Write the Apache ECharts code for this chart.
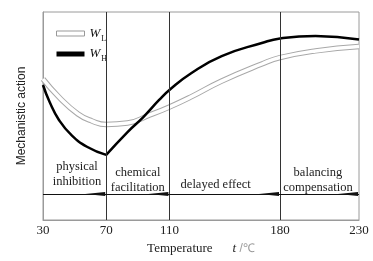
<!DOCTYPE html>
<html>
<head>
<meta charset="utf-8">
<script src="https://cdn.jsdelivr.net/npm/echarts@6/dist/echarts.min.js"></script>
<style>
  html, body { margin: 0; padding: 0; background: #fff; }
  #chart { width: 373px; height: 261px; }
</style>
</head>
<body>
<div id="chart"></div>
<script>
// temperature ticks and stage boundaries (°C)
const tempTicks = [30, 70, 110, 180, 230]
const stageBounds = [70, 110, 180]
const stageNames = ['physical\ninhibition', 'chemical\nfacilitation', 'delayed effect', 'balancing\ncompensation']

// W_L curve (arbitrary units 0-100)
const wlTemp = [30, 40.1, 52.1, 61, 70, 83.5, 97.6, 110, 124, 143.1, 168.5, 180, 202.5, 230]
const wlValue = [67.8, 59.1, 51.0, 47.6, 45.9, 46.6, 50.5, 54.3, 59.3, 66.8, 75.0, 78.1, 81.3, 83.4]

// W_H curve, falling part then rising part (kink at 70 °C)
const whFallTemp = [30, 34.2, 40.1, 47.9, 58.1, 70]
const whFallValue = [64.9, 56.7, 48.1, 40.9, 35.1, 31.3]
const whRiseTemp = [70, 83.5, 93.5, 103.5, 110, 124, 143.1, 168.5, 180, 202.5, 230]
const whRiseValue = [31.3, 42.3, 49.5, 57.7, 62.5, 70.7, 78.8, 85.1, 87.3, 88.5, 86.8]

const zip = (xs, ys) => xs.map((x, i) => [x, ys[i]])

const serif = 'Liberation Serif'
const sans = 'Liberation Sans'
const arrowY = 12.5

const chart = echarts.init(document.getElementById('chart'))
chart.setOption({
  animation: false,
  grid: {
    left: 43,
    right: 14,
    top: 12,
    bottom: 41,
    show: true,
    borderColor: '#9a9a9a',
    borderWidth: 1
  },
  legend: {
    orient: 'vertical',
    left: 51,
    top: 22,
    itemWidth: 28,
    itemHeight: 5,
    itemGap: 5,
    data: [
      { name: 'WL', icon: 'rect', itemStyle: { color: '#fff', borderColor: '#999', borderWidth: 1 } },
      { name: 'WH', icon: 'rect', itemStyle: { color: '#000', borderWidth: 0 } }
    ],
    formatter: name => name === 'WL' ? '{w|W}{s|L}' : '{w|W}{s|H}',
    textStyle: {
      rich: {
        w: { fontFamily: serif, fontStyle: 'italic', fontSize: 13, color: '#111' },
        s: { fontFamily: serif, fontSize: 8, color: '#111', padding: [10, 0, 0, 1] }
      }
    }
  },
  xAxis: {
    type: 'value',
    min: 30,
    max: 230,
    splitLine: { show: false },
    axisTick: { show: false },
    axisLine: { lineStyle: { color: '#9a9a9a' } },
    axisLabel: {
      customValues: tempTicks,
      margin: 4,
      fontFamily: serif,
      fontSize: 13,
      color: '#222'
    },
    name: '{a|Temperature}      {i|t} /℃',
    nameLocation: 'middle',
    nameGap: 22,
    nameTextStyle: {
      rich: {
        a: { fontFamily: serif, fontSize: 13, color: '#222' },
        i: { fontFamily: serif, fontStyle: 'italic', fontSize: 13, color: '#222' }
      }
    }
  },
  yAxis: {
    type: 'value',
    min: 0,
    max: 100,
    splitLine: { show: false },
    axisTick: { show: false },
    axisLabel: { show: false },
    axisLine: { lineStyle: { color: '#9a9a9a' } },
    name: 'Mechanistic action',
    nameLocation: 'middle',
    nameGap: 15,
    nameTextStyle: { fontFamily: sans, fontSize: 12, color: '#222' }
  },
  series: [
    {
      name: 'stages',
      type: 'line',
      data: [],
      silent: true,
      markLine: {
        silent: true,
        symbol: ['none', 'none'],
        label: { show: false },
        lineStyle: { color: '#333', width: 1, type: 'solid' },
        data: stageBounds.map(t => ({ xAxis: t }))
      },
      markPoint: {
        silent: true,
        symbol: 'circle',
        symbolSize: 1,
        itemStyle: { color: 'rgba(0,0,0,0)' },
        label: {
          show: true,
          position: 'inside',
          fontFamily: serif,
          fontSize: 12.5,
          lineHeight: 15,
          color: '#222',
          formatter: p => p.name
        },
        data: [
          { name: stageNames[0], coord: [51.5, 22] },
          { name: stageNames[1], coord: [90, 19] },
          { name: stageNames[2], coord: [139.3, 16.8] },
          { name: stageNames[3], coord: [204, 19] }
        ]
      }
    },
    {
      name: 'flow',
      type: 'line',
      data: [],
      silent: true,
      markLine: {
        silent: true,
        symbol: ['none', 'path://M0,0 L4,0 L2,20 Z'],
        symbolSize: [4, 20],
        symbolOffset: [0, [0, 11]],
        label: { show: false },
        lineStyle: { color: '#111', width: 1.2, type: 'solid' },
        itemStyle: { color: '#000' },
        data: tempTicks.slice(0, -1).map((t, i) => [
          { coord: [t, arrowY] },
          { coord: [tempTicks[i + 1], arrowY] }
        ])
      }
    },
    {
      name: 'WL',
      type: 'line',
      smooth: true,
      symbol: 'none',
      lineStyle: { color: '#a8a8a8', width: 5.5 },
      itemStyle: { color: '#fff' },
      data: zip(wlTemp, wlValue)
    },
    {
      name: 'WL',
      type: 'line',
      smooth: true,
      symbol: 'none',
      lineStyle: { color: '#fff', width: 3.5 },
      itemStyle: { color: '#fff' },
      data: zip(wlTemp, wlValue)
    },
    {
      name: 'WH',
      type: 'line',
      smooth: true,
      symbol: 'none',
      lineStyle: { color: '#000', width: 2.5 },
      itemStyle: { color: '#000' },
      data: zip(whFallTemp, whFallValue)
    },
    {
      name: 'WH',
      type: 'line',
      smooth: true,
      symbol: 'none',
      lineStyle: { color: '#000', width: 2.5 },
      itemStyle: { color: '#000' },
      data: zip(whRiseTemp, whRiseValue)
    }
  ]
})
</script>
</body>
</html>
